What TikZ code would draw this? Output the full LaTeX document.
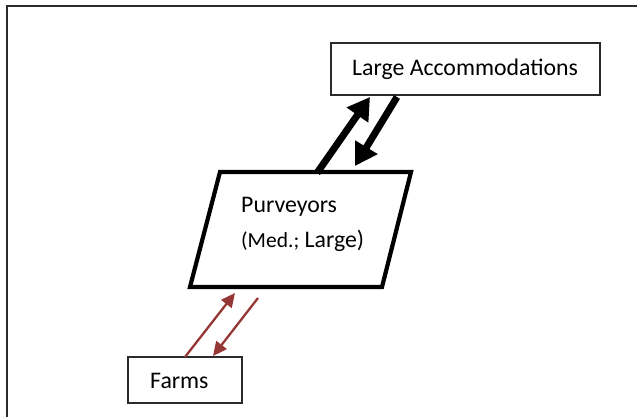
\documentclass[tikz,border=0pt]{standalone}
\usepackage{fontspec}
\setmainfont{Carlito}
\usetikzlibrary{arrows.meta}
\definecolor{flowred}{HTML}{953735}
\definecolor{framegray}{HTML}{2B2B2B}
\tikzset{
  box/.style={draw=framegray, line width=1.4pt, fill=white, inner sep=0pt},
  label/.style={inner sep=0pt, font=\fontsize{23.8}{28}\selectfont},
  bigflow/.style={line width=7pt, -{Triangle[length=22pt,width=25pt]}},
  smallflow/.style={draw=flowred, line width=2.3pt, -{Triangle[length=14pt,width=13pt]}},
}
\begin{document}
\begin{tikzpicture}[x=1pt,y=-1pt]
  \useasboundingbox (0,0) rectangle (637,417);
  % page frame: top and left edges only
  \draw[framegray, line width=1.4pt] (637,6) -- (7,6) -- (7,417);

  % Large Accommodations
  \node[box, minimum width=269pt, minimum height=52pt] (acc) at (465.5,69) {};
  \node[label] (acctxt) at (465,69) {Large Accommodations};

  % Purveyors (parallelogram)
  \coordinate (ptl) at (220,172);
  \coordinate (ptr) at (411,172);
  \coordinate (pbr) at (382,287);
  \coordinate (pbl) at (190,287);
  \draw[line width=4.2pt] (ptl) -- (ptr) -- (pbr) -- (pbl) -- cycle;
  \node[label, anchor=base west] (purvtxt) at (241,212) {Purveyors};
  \node[label, anchor=base west] (purvsize) at (241,247)
    {{\fontsize{21.5}{24}\selectfont(Med.;} Large)};

  % Farms
  \node[box, minimum width=114pt, minimum height=46pt] (farms) at (185,380) {};
  \node[label, anchor=base west] (farmstxt) at (150,388) {Farms};

  % flows between purveyors and accommodations
  \coordinate (pu1) at (317,173);
  \coordinate (au1) at (370,97);
  \coordinate (ad1) at (397,97);
  \coordinate (pd1) at (355,166);
  \draw[bigflow] (pu1) -- (au1);
  \draw[bigflow] (ad1) -- (pd1);

  % flows between farms and purveyors
  \coordinate (fu) at (185,357);
  \coordinate (pu2) at (235,293);
  \coordinate (pd2) at (258,298);
  \coordinate (fd) at (213,356);
  \draw[smallflow] (fu) -- (pu2);
  \draw[smallflow] (pd2) -- (fd);
\end{tikzpicture}
\end{document}
